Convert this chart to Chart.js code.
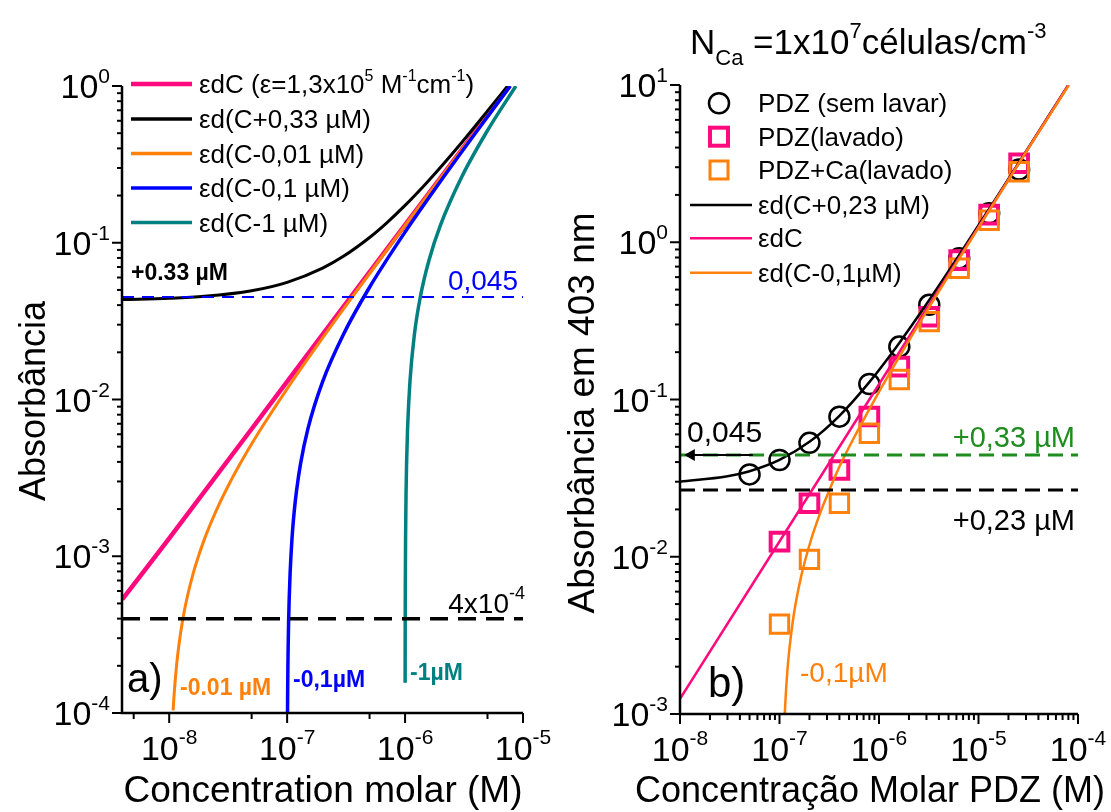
<!DOCTYPE html>
<html>
<head>
<meta charset="utf-8">
<script src="https://cdn.jsdelivr.net/npm/chart.js@4.4.1/dist/chart.umd.min.js"></script>
<style>
  body { margin: 0; background: #fff; }
  #wrap { position: relative; width: 1111px; height: 812px; }
  canvas { position: absolute; top: 0; }
</style>
</head>
<body>
<div id="wrap">
  <canvas id="chartA" width="555" height="812" style="left:0"></canvas>
  <canvas id="chartB" width="556" height="812" style="left:555px"></canvas>
</div>
<script>
// ---------- panel a: model curves, concentration (M) vs absorbance ----------
const aPinkC = [4e-9, 1e-8, 1e-7, 1e-6, 7.7e-6];
const aPinkA = [5.3e-4, 1.3e-3, 1.3e-2, 0.13, 1.0];

const aBlackC = [4e-9, 1e-8, 2e-8, 5e-8, 1e-7, 2e-7, 3e-7, 5e-7, 7e-7, 1e-6, 1.5e-6, 2e-6, 3e-6, 5e-6, 7.4e-6];
const aBlackA = [0.0434, 0.0442, 0.0455, 0.0494, 0.0559, 0.0689, 0.0819, 0.108, 0.134, 0.173, 0.238, 0.303, 0.433, 0.693, 1.0];

const aOrangeC = [1.08e-8, 1.1e-8, 1.15e-8, 1.2e-8, 1.3e-8, 1.4e-8, 1.6e-8, 2e-8, 2.5e-8, 3e-8, 4e-8, 6e-8, 1e-7, 2e-7, 4e-7, 1e-6, 3e-6, 7.8e-6];
const aOrangeA = [1.04e-4, 1.3e-4, 1.95e-4, 2.6e-4, 3.9e-4, 5.2e-4, 7.8e-4, 1.3e-3, 1.95e-3, 2.6e-3, 3.9e-3, 6.5e-3, 1.17e-2, 2.47e-2, 5.07e-2, 0.129, 0.389, 1.0];

const aBlueC = [1.0077e-7, 1.01e-7, 1.015e-7, 1.02e-7, 1.03e-7, 1.04e-7, 1.06e-7, 1.1e-7, 1.15e-7, 1.2e-7, 1.3e-7, 1.5e-7, 2e-7, 3e-7, 5e-7, 1e-6, 2e-6, 4e-6, 7.8e-6];
const aBlueA = [1.0e-4, 1.3e-4, 1.95e-4, 2.6e-4, 3.9e-4, 5.2e-4, 7.8e-4, 1.3e-3, 1.95e-3, 2.6e-3, 3.9e-3, 6.5e-3, 1.3e-2, 2.6e-2, 5.2e-2, 0.117, 0.247, 0.507, 1.0];

const aTealC = [1.0012e-6, 1.002e-6, 1.003e-6, 1.005e-6, 1.01e-6, 1.02e-6, 1.03e-6, 1.05e-6, 1.1e-6, 1.2e-6, 1.35e-6, 1.6e-6, 2e-6, 3e-6, 5e-6, 8.7e-6];
const aTealA = [1.56e-4, 2.6e-4, 3.9e-4, 6.5e-4, 1.3e-3, 2.6e-3, 3.9e-3, 6.5e-3, 1.3e-2, 2.6e-2, 4.55e-2, 7.8e-2, 0.13, 0.26, 0.52, 1.0];

const aLevels = [0.045, 4e-4];
const aXRange = [3.98e-9, 1e-5];
const aYRange = [1e-4, 1];
const aXExp = ['-8', '-7', '-6', '-5'];
const aYExp = ['0', '-1', '-2', '-3', '-4'];
const aLegend = ['εd(C+0,33 µM)', 'εd(C-0,01 µM)', 'εd(C-0,1 µM)', 'εd(C-1 µM)'];

// ---------- panel b: measured points and model curves ----------
const bCircC = [5e-8, 1e-7, 2e-7, 4e-7, 8e-7, 1.6e-6, 3.2e-6, 6.4e-6, 1.28e-5, 2.56e-5];
const bCircA = [0.0334, 0.0412, 0.053, 0.0778, 0.1255, 0.217, 0.40, 0.79, 1.53, 2.9];

const bPinkSqC = [1e-7, 2e-7, 4e-7, 8e-7, 1.6e-6, 3.2e-6, 6.4e-6, 1.28e-5, 2.56e-5];
const bPinkSqA = [0.01247, 0.0219, 0.0356, 0.078, 0.162, 0.336, 0.77, 1.5, 3.18];

const bOrSqC = [1e-7, 2e-7, 4e-7, 8e-7, 1.6e-6, 3.2e-6, 6.4e-6, 1.28e-5, 2.56e-5];
const bOrSqA = [0.00373, 0.00963, 0.0219, 0.061, 0.134, 0.313, 0.683, 1.38, 2.81];

const bBlackC = [1e-8, 3e-8, 5e-8, 1e-7, 2e-7, 4e-7, 8e-7, 1.6e-6, 3.2e-6, 6.4e-6, 1.28e-5, 2.56e-5, 5e-5, 8e-5];
const bBlackA = [0.0300, 0.0325, 0.035, 0.0413, 0.0538, 0.0788, 0.129, 0.229, 0.429, 0.829, 1.63, 3.23, 6.28, 10.0];

const bPinkC = [1e-8, 1e-7, 1e-6, 1e-5, 8e-5];
const bPinkA = [1.25e-3, 1.25e-2, 0.125, 1.25, 10];

const bOrangeC = [1.13e-7, 1.15e-7, 1.2e-7, 1.25e-7, 1.35e-7, 1.45e-7, 1.65e-7, 2.05e-7, 2.55e-7, 3.05e-7, 4.05e-7, 6e-7, 1e-6, 2e-6, 4e-6, 1e-5, 3e-5, 8.1e-5];
const bOrangeA = [1.0e-3, 1.25e-3, 1.88e-3, 2.5e-3, 3.75e-3, 5.0e-3, 7.5e-3, 1.25e-2, 1.88e-2, 2.5e-2, 3.8e-2, 6.2e-2, 0.112, 0.237, 0.487, 1.24, 3.74, 10.0];

const bLevels = [0.0444, 0.0266];
const bArrowC = [1.3e-8, 5.4e-8];
const bXRange = [1e-8, 1e-4];
const bYRange = [1e-3, 10];
const bXExp = ['-8', '-7', '-6', '-5', '-4'];
const bYExp = ['1', '0', '-1', '-2', '-3'];
const bLegend = ['PDZ (sem lavar)', 'PDZ(lavado)', 'PDZ+Ca(lavado)', 'εd(C+0,23 µM)', 'εdC', 'εd(C-0,1µM)'];

const PINK = '#ff0a7e', ORANGE = '#ff800a', BLUE = '#0000ff', TEAL = '#008080', GREEN = '#1e8c1e';
const SANS = '"Liberation Sans", Arial, sans-serif';

function pts(xs, ys) { return xs.map((x, i) => ({ x: x, y: ys[i] })); }

function curve(xs, ys, color, width, order) {
  return { data: pts(xs, ys), showLine: true, borderColor: color, borderWidth: width,
    pointRadius: 0, cubicInterpolationMode: 'monotone', order: order };
}

function level(xr, v, color, width, dash, order) {
  return { data: pts(xr, [v, v]), showLine: true, borderColor: color, borderWidth: width,
    borderDash: dash, pointRadius: 0, order: order };
}

function markers(xs, ys, style, color, radius, width, order) {
  return { data: pts(xs, ys), showLine: false, pointStyle: style, pointRadius: radius,
    pointBorderColor: color, pointBorderWidth: width, pointBackgroundColor: 'rgba(0,0,0,0)', order: order };
}

function font(sz, bold) { return (bold ? 'bold ' : '') + sz + 'px ' + SANS; }

// parts: [text, size, dy, bold]
function rich(ctx, x, y, parts, align, color) {
  let w = 0;
  parts.forEach(p => { ctx.font = font(p[1], p[3]); w += ctx.measureText(p[0]).width; });
  let cx = align === 'right' ? x - w : align === 'center' ? x - w / 2 : x;
  ctx.fillStyle = color;
  ctx.textAlign = 'left';
  ctx.textBaseline = 'alphabetic';
  parts.forEach(p => {
    ctx.font = font(p[1], p[3]);
    ctx.fillText(p[0], cx, y + (p[2] || 0));
    cx += ctx.measureText(p[0]).width;
  });
}

function vtitle(ctx, text, x, y, size) {
  ctx.save();
  ctx.translate(x, y);
  ctx.rotate(-Math.PI / 2);
  ctx.font = font(size);
  ctx.fillStyle = '#000';
  ctx.textAlign = 'center';
  ctx.textBaseline = 'middle';
  ctx.fillText(text, 0, 0);
  ctx.restore();
}

function seg(ctx, x1, y1, x2, y2) {
  ctx.beginPath(); ctx.moveTo(x1, y1); ctx.lineTo(x2, y2); ctx.stroke();
}

function logTicks(min, max, minors) {
  const out = [];
  for (let d = Math.floor(Math.log10(min)) - 1; d <= Math.ceil(Math.log10(max)); d++) {
    [1].concat(minors).forEach(m => {
      const v = m * Math.pow(10, d);
      if (v >= min * 0.999 && v <= max * 1.001) out.push({ v: v, major: m === 1 });
    });
  }
  return out;
}

function axesPlugin(cfg) {
  return {
    id: 'axes' + cfg.name,
    afterDraw(chart) {
      const ctx = chart.ctx, xs = chart.scales.x, ys = chart.scales.y, ca = chart.chartArea;
      ctx.save();
      ctx.strokeStyle = '#000';
      ctx.setLineDash([]);
      ctx.lineWidth = 2.5;
      ctx.beginPath();
      ctx.moveTo(ca.left, ca.top); ctx.lineTo(ca.left, ca.bottom); ctx.lineTo(ca.right, ca.bottom);
      ctx.stroke();
      ctx.lineWidth = 2;
      logTicks(ys.min, ys.max, [2, 3, 4, 5, 6, 7, 8, 9]).forEach(t => {
        const y = ys.getPixelForValue(t.v);
        seg(ctx, ca.left - (t.major ? 10 : 5), y, ca.left, y);
      });
      logTicks(xs.min, xs.max, cfg.xMinor).forEach(t => {
        const x = xs.getPixelForValue(t.v);
        seg(ctx, x, ca.bottom, x, ca.bottom + (t.major ? 10 : 6));
      });
      cfg.yExp.forEach(e => {
        const y = ys.getPixelForValue(Math.pow(10, +e));
        rich(ctx, ca.left - 12, y + 12, [['10', 34], [e, 21, -15]], 'right', '#000');
      });
      cfg.xExp.forEach(e => {
        const x = xs.getPixelForValue(Math.pow(10, +e));
        rich(ctx, x, ca.bottom + 47, [['10', 34], [e, 21, -16]], 'center', '#000');
      });
      cfg.extra(ctx);
      ctx.restore();
    }
  };
}

function makeChart(id, pad, xr, yr, datasets, plugin) {
  return new Chart(document.getElementById(id), {
    type: 'scatter',
    data: { datasets: datasets },
    options: {
      responsive: false,
      animation: false,
      devicePixelRatio: 1,
      layout: { padding: pad },
      scales: {
        x: { type: 'logarithmic', min: xr[0], max: xr[1], display: false },
        y: { type: 'logarithmic', min: yr[0], max: yr[1], display: false }
      },
      plugins: { legend: { display: false }, tooltip: { enabled: false } }
    },
    plugins: [plugin]
  });
}

// ---------- panel a ----------
makeChart('chartA', { left: 122, right: 32, top: 86, bottom: 99 }, aXRange, aYRange, [
  level(aXRange, aLevels[0], BLUE, 2, [12, 8], 0),
  level(aXRange, aLevels[1], '#000', 3.5, [18, 10], 0),
  curve(aTealC, aTealA, TEAL, 3.5, 1),
  curve(aBlueC, aBlueA, BLUE, 3.5, 2),
  curve(aOrangeC, aOrangeA, ORANGE, 3, 3),
  curve(aBlackC, aBlackA, '#000', 3, 4),
  curve(aPinkC, aPinkA, PINK, 4.5, 5)
], axesPlugin({
  name: 'A', xMinor: [5], xExp: aXExp, yExp: aYExp,
  extra(ctx) {
    const rows = [84, 119, 153.5, 188, 222.5];
    const cols = [PINK, '#000', ORANGE, BLUE, TEAL];
    ctx.lineCap = 'butt';
    rows.forEach((y, i) => {
      ctx.strokeStyle = cols[i];
      ctx.lineWidth = i === 0 ? 4.5 : 3.5;
      seg(ctx, 131, y, 192, y);
    });
    rich(ctx, 199, rows[0] + 9, [['εdC (ε=1,3x10', 26], ['5', 16, -12], [' M', 26], ['-1', 16, -12],
      ['cm', 26], ['-1', 16, -12], [')', 26]], 'left', '#000');
    aLegend.forEach((t, i) => rich(ctx, 199, rows[i + 1] + 9, [[t, 26]], 'left', '#000'));

    rich(ctx, 131, 280, [['+0.33 µM', 23, 0, true]], 'left', '#000');
    rich(ctx, 518, 290, [['0,045', 28]], 'right', BLUE);
    rich(ctx, 525, 613, [['4x10', 28], ['-4', 18, -14]], 'right', '#000');
    rich(ctx, 127, 692, [['a)', 40]], 'left', '#000');
    rich(ctx, 180, 695, [['-0.01 µM', 23, 0, true]], 'left', ORANGE);
    rich(ctx, 293, 687, [['-0,1µM', 23, 0, true]], 'left', BLUE);
    rich(ctx, 410, 680, [['-1µM', 23, 0, true]], 'left', TEAL);

    vtitle(ctx, 'Absorbância', 35, 401, 36);
    ctx.font = font(37); ctx.fillStyle = '#000'; ctx.textAlign = 'center'; ctx.textBaseline = 'alphabetic';
    ctx.fillText('Concentration molar (M)', 323, 802);
  }
}));

// ---------- panel b ----------
const bArrow = {
  data: pts(bArrowC, [bLevels[0], bLevels[0]]), showLine: true, borderColor: '#000', borderWidth: 2,
  pointStyle: 'triangle', pointRotation: -90, pointRadius: [7, 0], pointBorderWidth: 0,
  pointBackgroundColor: '#000', order: 0
};

makeChart('chartB', { left: 125, right: 33, top: 85, bottom: 98 }, bXRange, bYRange, [
  bArrow,
  level(bXRange, bLevels[0], GREEN, 3, [15, 8], 1),
  level(bXRange, bLevels[1], '#000', 3, [15, 8], 1),
  curve(bOrangeC, bOrangeA, ORANGE, 2.5, 2),
  curve(bPinkC, bPinkA, PINK, 2.5, 3),
  curve(bBlackC, bBlackA, '#000', 2.5, 4),
  markers(bOrSqC, bOrSqA, 'rect', ORANGE, 13, 3, 5),
  markers(bPinkSqC, bPinkSqA, 'rect', PINK, 12.5, 4, 6),
  markers(bCircC, bCircA, 'circle', '#000', 10, 2.5, 7)
], axesPlugin({
  name: 'B', xMinor: [2, 3, 4, 5, 6, 7, 8, 9], xExp: bXExp, yExp: bYExp,
  extra(ctx) {
    const rows = [103.3, 136.7, 170, 205, 238.3, 272.7];
    const mx = 164;
    ctx.strokeStyle = '#000'; ctx.lineWidth = 2.5;
    ctx.beginPath(); ctx.arc(mx, rows[0], 10, 0, Math.PI * 2); ctx.stroke();
    ctx.strokeStyle = PINK; ctx.lineWidth = 4; ctx.strokeRect(mx - 9, rows[1] - 9, 18, 18);
    ctx.strokeStyle = ORANGE; ctx.lineWidth = 3; ctx.strokeRect(mx - 9, rows[2] - 9, 18, 18);
    [['#000', 3], [PINK, 4], [ORANGE, 5]].forEach(r => {
      ctx.strokeStyle = r[0]; ctx.lineWidth = 2.5;
      seg(ctx, 135, rows[r[1]], 197, rows[r[1]]);
    });
    bLegend.forEach((t, i) => rich(ctx, 203, rows[i] + 9, [[t, 26]], 'left', '#000'));

    rich(ctx, 135, 54, [['N', 35], ['Ca', 22, 11], [' =1x10', 35], ['7', 22, -16],
      ['células/cm', 35], ['-3', 22, -16]], 'left', '#000');

    rich(ctx, 132, 442, [['0,045', 30]], 'left', '#000');
    rich(ctx, 520, 447, [['+0,33 µM', 29]], 'right', GREEN);
    rich(ctx, 520, 530, [['+0,23 µM', 29]], 'right', '#000');
    rich(ctx, 153, 697, [['b)', 42]], 'left', '#000');
    rich(ctx, 245, 682, [['-0,1µM', 28]], 'left', ORANGE);

    vtitle(ctx, 'Absorbância em 403 nm', 29, 413, 37);
    ctx.font = font(36); ctx.fillStyle = '#000'; ctx.textAlign = 'center'; ctx.textBaseline = 'alphabetic';
    ctx.fillText('Concentração Molar PDZ (M)', 315, 802);
  }
}));
</script>
</body>
</html>
